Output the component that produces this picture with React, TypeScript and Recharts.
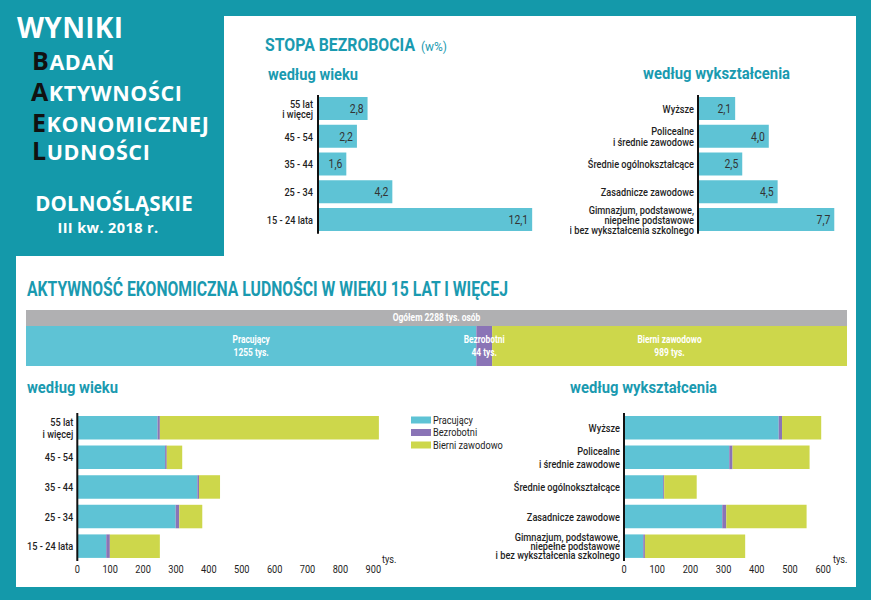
import { BarChart, Bar, XAxis, YAxis, LabelList } from 'recharts';

const TEAL = '#1499aa';
const HEAD = '#1a9ab0';
const BLUE = '#5ec3d5';
const PURPLE = '#8a74b6';
const GREEN = '#cdd74b';
const GRAY = '#b0b0b2';
const INK = '#1e1e1e';
const FONT = 'Roboto, "Noto Sans", sans-serif';
const WIDE = '"Open Sans", "Noto Sans", sans-serif';
const SX = 0.8; // condensed look

// stopa bezrobocia (w %)
const ageGroups = ['55 lat\ni więcej', '45 - 54', '35 - 44', '25 - 34', '15 - 24 lata'];
const ageRate = [2.8, 2.2, 1.6, 4.2, 12.1];
const eduGroups = [
  'Wyższe',
  'Policealne\ni średnie zawodowe',
  'Średnie ogólnokształcące',
  'Zasadnicze zawodowe',
  'Gimnazjum, podstawowe,\nniepełne podstawowe\ni bez wykształcenia szkolnego',
];
const eduRate = [2.1, 4.0, 2.5, 4.5, 7.7];

// aktywnosc ekonomiczna (tys.)
const totalPop = 2288;
const activityNames = ['Pracujący', 'Bezrobotni', 'Bierni zawodowo'];
const activityTotals = [1255, 44, 989];
const agePrac = [244, 267, 365, 299, 88];
const ageBezr = [7, 5, 5, 11, 11];
const ageBierni = [666, 47, 64, 70, 152];
const eduPrac = [466, 317, 118, 296, 58];
const eduBezr = [10, 10, 3, 12, 5];
const eduBierni = [118, 232, 98, 242, 302];
const ageTicks = [0, 100, 200, 300, 400, 500, 600, 700, 800, 900];
const eduTicks = [0, 100, 200, 300, 400, 500, 600];

const ageRateData = ageGroups.map((name, i) => ({ name, value: ageRate[i] }));
const eduRateData = eduGroups.map((name, i) => ({ name, value: eduRate[i] }));
const ageActData = ageGroups.map((name, i) => ({ name, prac: agePrac[i], bezr: ageBezr[i], bierni: ageBierni[i] }));
const eduActData = eduGroups.map((name, i) => ({ name, prac: eduPrac[i], bezr: eduBezr[i], bierni: eduBierni[i] }));
const totalData = [{ name: 'Ogółem', value: totalPop }];
const splitData = [{ name: 'all', prac: activityTotals[0], bezr: activityTotals[1], bierni: activityTotals[2] }];

const fmt = (v: any) => Number(v).toFixed(1).replace('.', ',');

// svg text squeezed horizontally
const NText = ({ x, y, anchor = 'start', size = 11.5, weight = 'normal', fill = INK, children }: any) => (
  <text transform={`scale(${SX},1)`} x={x / SX} y={y} textAnchor={anchor} fontFamily={FONT}
    fontSize={size} fontWeight={weight} fill={fill}>{children}</text>
);

const CatTick = (props: any) => {
  const { x, y, payload, big } = props;
  const lines = String(payload.value).split('\n');
  const lh = big ? (lines.length === 3 ? 9.3 : 12.5) : 10.3;
  const y0 = y - ((lines.length - 1) * lh) / 2 + 4;
  return (
    <text transform={`scale(${SX},1)`} textAnchor="end" fontFamily={FONT} fontSize={11.5} fontWeight={500} fill={INK}>
      {lines.map((l, i) => (
        <tspan key={i} x={x / SX} y={y0 + i * lh}>{l}</tspan>
      ))}
    </text>
  );
};

const NumTick = ({ x, y, payload }: any) => (
  <NText x={x} y={y + 12} anchor="middle" size={11.5}>{payload.value}</NText>
);

const ValueLabel = (p: any) => (
  <NText x={p.x + p.width - 4} y={p.y + p.height / 2 + 4.5} anchor="end" size={13} fill="#333">{fmt(p.value)}</NText>
);

const twoLine = (title: string, sub: string) => (p: any) => {
  const cx = p.x + p.width / 2;
  const cy = p.y + p.height / 2;
  return (
    <text transform={`scale(${SX},1)`} textAnchor="middle" fontFamily={FONT} fontWeight="bold" fontSize={10.5} fill="#fff">
      <tspan x={cx / SX} y={cy - 3}>{title}</tspan>
      <tspan x={cx / SX} y={cy + 10}>{sub}</tspan>
    </text>
  );
};

const Head = ({ x, y, w, size = 16, children }: any) => (
  <text x={x} y={y} fontFamily={FONT} fontWeight="bold" fontSize={size} fill={HEAD}
    textLength={w} lengthAdjust="spacingAndGlyphs">{children}</text>
);

const place = (left: number, top: number): React.CSSProperties => ({ position: 'absolute', left, top });

export default function App() {
  return (
    <div style={{ position: 'absolute', left: 0, top: 0, width: 871, height: 600, overflow: 'hidden', background: TEAL }}>
      <svg width={871} height={600} style={{ position: 'absolute', left: 0, top: 0 }}>
        <rect x={224} y={16} width={632} height={241} fill="#fff" />
        <rect x={16} y={256} width={840} height={331} fill="#fff" />

        <g fontFamily={WIDE} fontWeight="bold">
          <text x={17} y={38} fontSize={28} fill="#fff" letterSpacing={0.3}>WYNIKI</text>
          <text x={32} y={70} fill="#fff" letterSpacing={0.6}>
            <tspan fontSize={25} fill="#111">B</tspan><tspan fontSize={21.5}>ADAŃ</tspan>
          </text>
          <text x={31} y={101} fill="#fff" letterSpacing={0.6}>
            <tspan fontSize={25} fill="#111">A</tspan><tspan fontSize={21.5}>KTYWNOŚCI</tspan>
          </text>
          <text x={32} y={132} fill="#fff" letterSpacing={0.6}>
            <tspan fontSize={25} fill="#111">E</tspan><tspan fontSize={21.5}>KONOMICZNEJ</tspan>
          </text>
          <text x={32} y={160} fill="#fff" letterSpacing={0.6}>
            <tspan fontSize={25} fill="#111">L</tspan><tspan fontSize={21.5}>UDNOŚCI</tspan>
          </text>
          <text x={114} y={211} fontSize={20.5} fill="#fff" textAnchor="middle" letterSpacing={0.1}>DOLNOŚLĄSKIE</text>
          <text x={108} y={233} fontSize={14.5} fill="#fff" textAnchor="middle" letterSpacing={0.4}>III kw. 2018 r.</text>
        </g>

        <Head x={265} y={51} w={150} size={17.5}>STOPA BEZROBOCIA</Head>
        <text x={421} y={51} fontFamily={FONT} fontSize={12.5} fill={HEAD} textLength={26} lengthAdjust="spacingAndGlyphs">(w%)</text>
        <Head x={268} y={80} w={90}>według wieku</Head>
        <Head x={643} y={79} w={147}>według wykształcenia</Head>
        <Head x={27} y={296} w={481} size={19.5}>AKTYWNOŚĆ EKONOMICZNA LUDNOŚCI W WIEKU 15 LAT I WIĘCEJ</Head>
        <Head x={27} y={393} w={91}>według wieku</Head>
        <Head x={570} y={393} w={147}>według wykształcenia</Head>

        <NText x={382} y={563}>tys.</NText>
        <NText x={833} y={563}>tys.</NText>
        {activityNames.map((n, i) => (
          <g key={n}>
            <rect x={411} y={416.5 + i * 12.5} width={20} height={7} fill={[BLUE, PURPLE, GREEN][i]} />
            <NText x={433} y={424 + i * 12.5}>{n}</NText>
          </g>
        ))}
      </svg>

      {/* stopa bezrobocia wg wieku */}
      <div style={place(230, 94.6)}>
        <BarChart width={88 + 221.25} height={138.75 + 6} layout="vertical" data={ageRateData} margin={{ top: 0, right: 0, bottom: 6, left: 0 }}>
          <XAxis type="number" hide domain={[0, 12.5]} />
          <YAxis type="category" dataKey="name" width={88} tick={<CatTick />} tickLine={false} tickSize={0} tickMargin={5}
            axisLine={{ stroke: '#111', strokeWidth: 2 }} interval={0} />
          <Bar dataKey="value" fill={BLUE} barSize={23} isAnimationActive={false}>
            <LabelList dataKey="value" content={ValueLabel} />
          </Bar>
        </BarChart>
      </div>

      {/* stopa bezrobocia wg wyksztalcenia */}
      <div style={place(570, 94.6)}>
        <BarChart width={128 + 150.45} height={138.75 + 6} layout="vertical" data={eduRateData} margin={{ top: 0, right: 0, bottom: 6, left: 0 }}>
          <XAxis type="number" hide domain={[0, 8.5]} />
          <YAxis type="category" dataKey="name" width={128} tick={<CatTick />} tickLine={false} tickSize={0} tickMargin={4}
            axisLine={{ stroke: '#111', strokeWidth: 2 }} interval={0} />
          <Bar dataKey="value" fill={BLUE} barSize={23} isAnimationActive={false}>
            <LabelList dataKey="value" content={ValueLabel} />
          </Bar>
        </BarChart>
      </div>

      {/* ogolem */}
      <div style={place(26, 310)}>
        <BarChart width={821} height={16} layout="vertical" data={totalData} margin={{ top: 0, right: 0, bottom: 0, left: 0 }} barCategoryGap={0}>
          <XAxis type="number" hide domain={[0, totalPop]} />
          <YAxis type="category" dataKey="name" hide />
          <Bar dataKey="value" fill={GRAY} isAnimationActive={false}>
            <LabelList dataKey="value" content={(p: any) => (
              <NText x={p.x + p.width / 2} y={p.y + p.height / 2 + 3.5} anchor="middle" weight="bold" size={10.5} fill="#fff">
                {`Ogółem ${p.value} tys. osób`}
              </NText>
            )} />
          </Bar>
        </BarChart>
      </div>
      <div style={place(26, 326)}>
        <BarChart width={821} height={40} layout="vertical" data={splitData} margin={{ top: 0, right: 0, bottom: 0, left: 0 }} barCategoryGap={0}>
          <XAxis type="number" hide domain={[0, totalPop]} />
          <YAxis type="category" dataKey="name" hide />
          <Bar dataKey="prac" stackId="s" fill={BLUE} isAnimationActive={false}>
            <LabelList dataKey="prac" content={twoLine(activityNames[0], `${activityTotals[0]} tys.`)} />
          </Bar>
          <Bar dataKey="bezr" stackId="s" fill={PURPLE} isAnimationActive={false}>
            <LabelList dataKey="bezr" content={twoLine(activityNames[1], `${activityTotals[1]} tys.`)} />
          </Bar>
          <Bar dataKey="bierni" stackId="s" fill={GREEN} isAnimationActive={false}>
            <LabelList dataKey="bierni" content={twoLine(activityNames[2], `${activityTotals[2]} tys.`)} />
          </Bar>
        </BarChart>
      </div>

      {/* aktywnosc wg wieku */}
      <div style={place(20, 412.65)}>
        <BarChart width={57.3 + 312.45 + 15} height={148 + 22} layout="vertical" data={ageActData} margin={{ top: 0, right: 15, bottom: 0, left: 0 }}>
          <XAxis type="number" domain={[0, 950]} ticks={ageTicks} tickLine={false} axisLine={false} height={22} tickMargin={0} tickSize={0}
            tick={<NumTick />} interval={0} />
          <YAxis type="category" dataKey="name" width={57.3} tick={<CatTick big />} tickLine={false} tickSize={0} tickMargin={4}
            axisLine={{ stroke: '#111', strokeWidth: 2 }} interval={0} />
          <Bar dataKey="prac" stackId="a" fill={BLUE} barSize={23.5} isAnimationActive={false} />
          <Bar dataKey="bezr" stackId="a" fill={PURPLE} barSize={23.5} isAnimationActive={false} />
          <Bar dataKey="bierni" stackId="a" fill={GREEN} barSize={23.5} isAnimationActive={false} />
        </BarChart>
      </div>

      {/* aktywnosc wg wyksztalcenia */}
      <div style={place(495, 412.65)}>
        <BarChart width={129 + 215.8 + 15} height={148 + 22} layout="vertical" data={eduActData} margin={{ top: 0, right: 15, bottom: 0, left: 0 }}>
          <XAxis type="number" domain={[0, 650]} ticks={eduTicks} tickLine={false} axisLine={false} height={22} tickMargin={0} tickSize={0}
            tick={<NumTick />} interval={0} />
          <YAxis type="category" dataKey="name" width={129} tick={<CatTick big />} tickLine={false} tickSize={0} tickMargin={4}
            axisLine={{ stroke: '#111', strokeWidth: 2 }} interval={0} />
          <Bar dataKey="prac" stackId="a" fill={BLUE} barSize={23.5} isAnimationActive={false} />
          <Bar dataKey="bezr" stackId="a" fill={PURPLE} barSize={23.5} isAnimationActive={false} />
          <Bar dataKey="bierni" stackId="a" fill={GREEN} barSize={23.5} isAnimationActive={false} />
        </BarChart>
      </div>
    </div>
  );
}
